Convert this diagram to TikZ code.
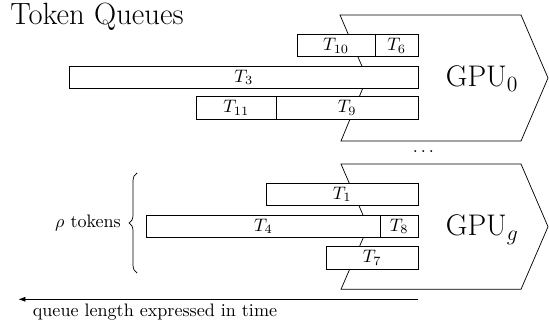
\documentclass[tikz,border=0pt]{standalone}
\usepackage{tikz}
\usepackage{amsmath}
\usetikzlibrary{
  arrows.meta,
  positioning,
  decorations.pathreplacing
}
\tikzset{
  tok/.style={
    draw, fill=white, minimum height=4.34mm, inner sep=0pt, outer sep=0pt,
    font=\normalsize
  },
  gpu/.style={draw, line join=miter},
  gpulabel/.style={font=\fontsize{16.5}{19}\selectfont, inner sep=0pt, anchor=base west},
  headline/.style={font=\fontsize{17}{20}\selectfont, inner sep=0pt, anchor=base west},
  brace/.style={decorate, decoration={brace, amplitude=4.4pt}},
  timeline/.style={-{Latex[length=1.4mm, width=1mm]}},
  tag/.style={font=\normalsize, inner sep=1pt}
}

\begin{document}
\begin{tikzpicture}[x=0.1945mm, y=-0.1945mm]
  \useasboundingbox (0,0) rectangle (549,324);
  \node[headline] (head) at (10,25) {Token Queues};

  % GPU 0
  \draw[gpu] (340,15) -- (521,15) -- (548,78) -- (521,141) -- (341,141) -- (367,78) -- cycle;
  \node[gpulabel] (gpu0) at (445.5,86.7) {GPU$_0$};
  \node[tok, minimum width=8.42mm, anchor=east] (t6) at (418.3,45.5) {$T_6$};
  \node[tok, minimum width=15.11mm, left=0pt of t6] (t10) {$T_{10}$};
  \node[tok, minimum width=67.88mm, anchor=east] (t3) at (418.3,77.2) {$T_3$};
  \node[tok, minimum width=27.68mm, anchor=east] (t9) at (418.3,107.8) {$T_9$};
  \node[tok, minimum width=15.42mm, left=0pt of t9] (t11) {$T_{11}$};

  \node (dots) at (425,151.5) {$\dots$};

  % GPU g
  \draw[gpu] (341,164) -- (521,164) -- (548,226.7) -- (521,289.3) -- (341,289.3) -- (368,226.7) -- cycle;
  \node[gpulabel] (gpug) at (445.5,235.4) {GPU$_g$};
  \node[tok, minimum width=29.62mm, anchor=east] (t1) at (418.3,194.3) {$T_1$};
  \node[tok, minimum width=7.45mm, anchor=east] (t8) at (418.3,226.2) {$T_8$};
  \node[tok, minimum width=45.38mm, left=0pt of t8] (t4) {$T_4$};
  \node[tok, minimum width=17.95mm, anchor=east] (t7) at (418.3,258) {$T_7$};

  % rho tokens
  \coordinate (rbot) at (137,273);
  \coordinate (rtop) at (137,173);
  \draw[brace] (rbot) -- (rtop);
  \node[tag] (rho) at (88,223) {$\rho$ tokens};

  % time axis
  \coordinate (qright) at (418.3,299.3);
  \coordinate (qleft) at (18.3,299.3);
  \draw[timeline] (qright) -- (qleft);
  \node[tag] (qtext) at (155,311.7) {queue length expressed in time};
\end{tikzpicture}
\end{document}
